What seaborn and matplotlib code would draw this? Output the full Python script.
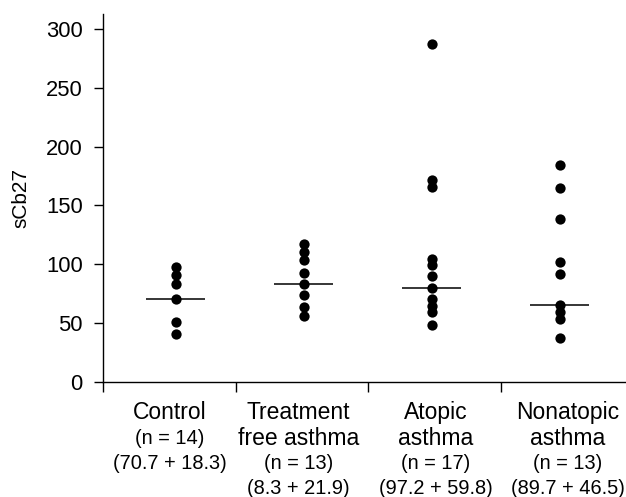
import pandas as pd
import matplotlib
matplotlib.use("Agg")
import matplotlib.pyplot as plt
import seaborn as sns

# Values (overlapping dots only drawn once)
groups = ["Control", "Treatment free asthma", "Atopic asthma", "Nonatopic asthma"]
control = [98, 90.6, 83.2, 70.3, 51.2, 40.5]
treatment_free = [117.2, 110.7, 103.9, 92.4, 83.3, 74.2, 64, 56.1]
atopic = [286.9, 171.4, 165.9, 104.8, 99.4, 90.1, 79.9, 70.3, 64.8, 59.7, 48.2]
nonatopic = [184.6, 164.8, 138.5, 101.7, 91.8, 65.4, 59.2, 53.3, 37.4]
medians = [70.5, 83.5, 79.9, 65.2]

name_lines = [["Control"], ["Treatment", "free asthma"], ["Atopic", "asthma"], ["Nonatopic", "asthma"]]
n_labels = ["(n = 14)", "(n = 13)", "(n = 17)", "(n = 13)"]
stat_labels = ["(70.7 + 18.3)", "(8.3 + 21.9)", "(97.2 + 59.8)", "(89.7 + 46.5)"]

values = [control, treatment_free, atopic, nonatopic]
df = pd.DataFrame({
    "group": [g for g, v in zip(groups, values) for _ in v],
    "sCb27": [x for v in values for x in v],
})

sns.set_style("ticks")
plt.rcParams["font.family"] = ["Liberation Sans", "DejaVu Sans"]
plt.rcParams["text.color"] = "black"
plt.rcParams["axes.labelcolor"] = "black"

fig = plt.figure(figsize=(6.26, 4.97), dpi=100)
ax = fig.add_axes([0.1645, 0.2314, 0.8355, 0.7404])

sns.stripplot(data=df, x="group", y="sCb27", order=groups, jitter=False,
              color="black", size=7.4, linewidth=0, ax=ax)

# median lines
ax.hlines(medians, [i - 0.23 for i in range(len(groups))],
          [i + 0.23 for i in range(len(groups))], colors="black", linewidth=1.1)

ax.set_xlim(-0.57, 3.52)
ax.set_ylim(0, 312.7)
ax.set_yticks(range(0, 301, 50))
ax.tick_params(axis="y", labelsize=15.8, length=6.5, width=1, direction="out", pad=8, colors="black")
ax.set_ylabel("sCb27", fontsize=15, labelpad=11)

# group boundaries as ticks, labels written as separate lines
ax.set_xticks([-0.57, 0.47, 1.5, 2.54])
ax.set_xticklabels([])
ax.tick_params(axis="x", length=7, width=1, direction="out", colors="black")
ax.set_xlabel("")

offsets = [22, 40.5, 59, 76.5]
shift = [-4.3, -3.6, 2.9, 5.8]
for i in range(len(groups)):
    lines = [(t, 16.5) for t in name_lines[i]] + [(n_labels[i], 14.4), (stat_labels[i], 14.4)]
    for k, (txt, fs) in enumerate(lines):
        ax.annotate(txt, xy=(i, 0), xycoords=("data", "axes fraction"),
                    xytext=(shift[i], -offsets[k]), textcoords="offset points",
                    ha="center", va="center", fontsize=fs, annotation_clip=False)

for s in ["top", "right"]:
    ax.spines[s].set_visible(False)
for s in ["left", "bottom"]:
    ax.spines[s].set_linewidth(1)
    ax.spines[s].set_color("black")

fig.savefig("out.png", dpi=100)
